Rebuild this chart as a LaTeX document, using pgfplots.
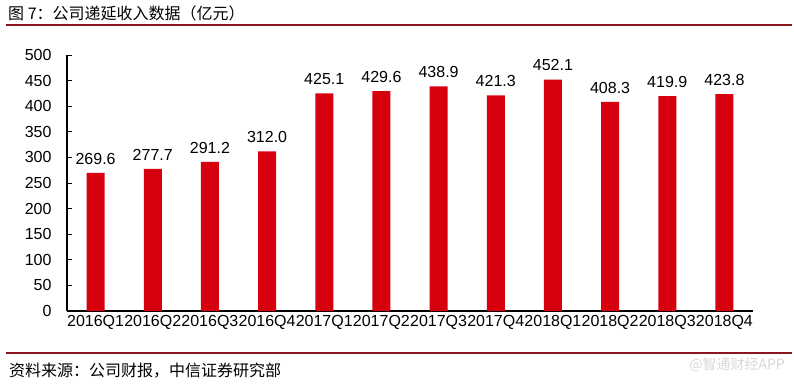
\documentclass[border=0pt]{standalone}
\usepackage{pgfplots}
\pgfplotsset{compat=1.18}
\usepackage{fontspec}
\setmainfont{Liberation Sans}
\newfontfamily\cjk{Noto Sans CJK SC}
\definecolor{barred}{RGB}{215,0,15}
\definecolor{linered}{RGB}{140,20,30}
\definecolor{wm}{RGB}{215,215,215}
\begin{document}
\begin{tikzpicture}[x=1bp,y=1bp]
\path[use as bounding box] (0,0) rectangle (794,-383);
\node[anchor=base west,inner sep=0,font=\cjk\fontsize{16bp}{18bp}\selectfont] at (8,-19) {图 7：公司递延收入数据（亿元）};
\draw[linered,line width=1.3bp] (6,-25) -- (792,-25);
\draw[linered,line width=1.3bp] (6,-353) -- (792,-353);
\node[anchor=base west,inner sep=0,font=\cjk\fontsize{16bp}{18bp}\selectfont] at (9,-376) {资料来源：公司财报，中信证券研究部};
\node[anchor=base east,inner sep=0,text=wm,font=\cjk\fontsize{14bp}{16bp}\selectfont] at (785,-369) {@智通财经APP};
\begin{axis}[
  at={(67bp,-311bp)}, anchor=south west,
  scale only axis, width=686bp, height=256bp,
  xmin=-0.5, xmax=11.5, ymin=0, ymax=500,
  axis x line=bottom, axis y line=left,
  axis line style={-, black, line width=1.2bp},
  xtick={0,...,11},
  xticklabels={2016Q1,2016Q2,2016Q3,2016Q4,2017Q1,2017Q2,2017Q3,2017Q4,2018Q1,2018Q2,2018Q3,2018Q4},
  ytick={0,50,...,500},
  tick align=inside,
  x tick style={draw=none},
  y tick style={black, line width=1bp},
  major tick length=5bp,
  ticklabel style={font=\fontsize{16bp}{18bp}\selectfont},
  /pgf/number format/assume math mode=true,
  yticklabel style={xshift=-12bp},
  xticklabel style={yshift=-1bp},
  every node near coord/.append style={font=\fontsize{16bp}{18bp}\selectfont, yshift=5bp, /pgf/number format/.cd, fixed, fixed zerofill, precision=1},
  clip=false,
]
\addplot[ybar, bar width=18bp, fill=barred, draw=none, nodes near coords] coordinates {
(0,269.6) (1,277.7) (2,291.2) (3,312.0) (4,425.1) (5,429.6) (6,438.9) (7,421.3) (8,452.1) (9,408.3) (10,419.9) (11,423.8)
};
\end{axis}
\end{tikzpicture}
\end{document}
